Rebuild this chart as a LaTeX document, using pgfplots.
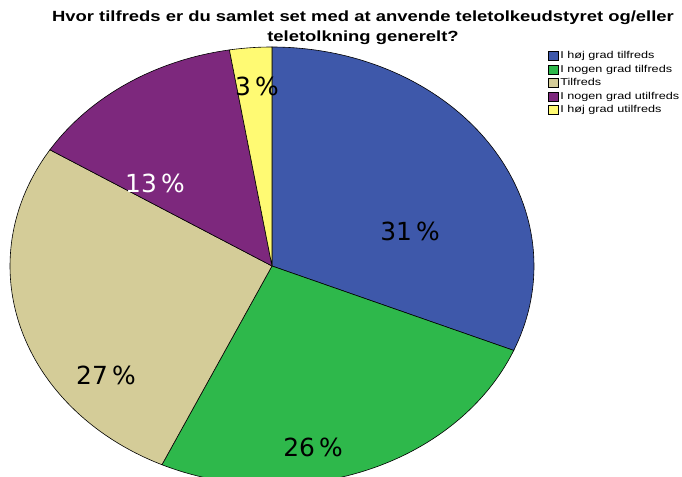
\documentclass[border=0pt]{standalone}
\usepackage{pgfplots}
\pgfplotsset{compat=1.18}
\usepackage{fontspec}
\setmainfont{Liberation Sans}
\newfontfamily\pctfont{DejaVu Sans}
\newfontfamily\widefont[FakeStretch=1.27]{Liberation Sans}
\newfontfamily\titlefont[FakeStretch=1.25]{Liberation Sans}
\definecolor{cA}{RGB}{62,88,170}
\definecolor{cB}{RGB}{46,184,75}
\definecolor{cC}{RGB}{212,204,152}
\definecolor{cD}{RGB}{125,40,125}
\definecolor{cE}{RGB}{255,250,115}
% shares (percent)
\def\vA{31.3}\def\vB{25.6}\def\vC{27.0}\def\vD{13.5}\def\vE{2.6}
\begin{document}
\begin{tikzpicture}
\pgfmathsetmacro\aO{90}
\pgfmathsetmacro\aA{\aO-3.6*\vA}
\pgfmathsetmacro\aB{\aA-3.6*\vB}
\pgfmathsetmacro\aC{\aB-3.6*\vC}
\pgfmathsetmacro\aD{\aC-3.6*\vD}
\pgfmathsetmacro\aE{\aD-3.6*\vE}
\begin{axis}[
  width=682bp, height=477bp, scale only axis,
  xmin=0, xmax=682, ymin=0, ymax=477,
  hide axis, clip=true,
  samples=90, variable=\t,
  legend style={at={(axis cs:548,427)}, anchor=north west, draw=none, fill=none,
    font=\widefont\fontsize{10}{10}\selectfont, row sep=1.8bp,
    inner sep=0pt, nodes={inner sep=1.5pt}},
  legend cell align=left,
  legend image code/.code={\draw[#1,draw=black,line width=0.6bp] (0bp,-4.5bp) rectangle (10bp,4.5bp);},
]
\addplot[fill=cA, draw=black, line width=0.6bp, domain=\aA:\aO] ({272+262*cos(t)},{211+219*sin(t)}) -- (272,211) -- cycle;
\addlegendentry{I høj grad tilfreds}
\addplot[fill=cB, draw=black, line width=0.6bp, domain=\aB:\aA] ({272+262*cos(t)},{211+219*sin(t)}) -- (272,211) -- cycle;
\addlegendentry{I nogen grad tilfreds}
\addplot[fill=cC, draw=black, line width=0.6bp, domain=\aC:\aB] ({272+262*cos(t)},{211+219*sin(t)}) -- (272,211) -- cycle;
\addlegendentry{Tilfreds}
\addplot[fill=cD, draw=black, line width=0.6bp, domain=\aD:\aC] ({272+262*cos(t)},{211+219*sin(t)}) -- (272,211) -- cycle;
\addlegendentry{I nogen grad utilfreds}
\addplot[fill=cE, draw=black, line width=0.6bp, domain=\aE:\aD] ({272+262*cos(t)},{211+219*sin(t)}) -- (272,211) -- cycle;
\addlegendentry{I høj grad utilfreds}
\node[font=\pctfont\fontsize{25}{25}\selectfont] at (410,246) {31\,\%};
\node[font=\pctfont\fontsize{25}{25}\selectfont] at (313,30) {26\,\%};
\node[font=\pctfont\fontsize{25}{25}\selectfont] at (106,102) {27\,\%};
\node[font=\pctfont\fontsize{25}{25}\selectfont, white] at (155,294) {13\,\%};
\node[font=\pctfont\fontsize{25}{25}\selectfont] at (257,391) {3\,\%};
\node[font=\titlefont\bfseries\fontsize{14.8}{20}\selectfont, align=center] at (363,449) {Hvor tilfreds er du samlet set med at anvende teletolkeudstyret og/eller\\teletolkning generelt?};
\end{axis}
\pgfresetboundingbox
\path (current axis.south west) rectangle (current axis.north east);
\end{tikzpicture}
\end{document}
